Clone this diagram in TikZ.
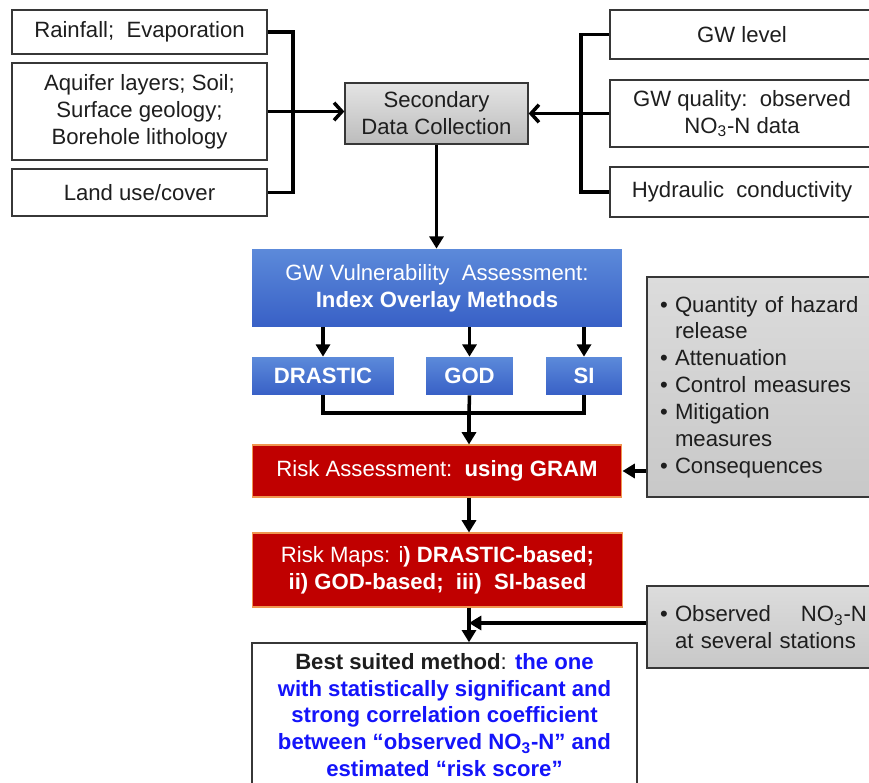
\documentclass[tikz,border=0pt]{standalone}
\usepackage{fontspec}
\setmainfont{Liberation Sans}
\usetikzlibrary{arrows.meta}
\definecolor{boxline}{RGB}{55, 55, 55}
\definecolor{inktext}{RGB}{30, 30, 30}
\definecolor{greytop}{RGB}{228, 228, 228}
\definecolor{greybot}{RGB}{188, 188, 188}
\definecolor{paneltop}{RGB}{220, 220, 220}
\definecolor{panelbot}{RGB}{200, 200, 200}
\definecolor{bluetop}{RGB}{92, 138, 218}
\definecolor{bluebot}{RGB}{56, 96, 198}
\definecolor{riskred}{RGB}{192, 0, 0}
\definecolor{riskedge}{RGB}{240, 150, 80}
\definecolor{bestblue}{RGB}{20, 20, 250}

\newcommand{\hzbul}{\makebox[0.3cm][l]{\textbullet}}
\newcommand{\hzind}{\hspace*{0.3cm}}

\tikzset{
  txt/.style      = {font=\fontsize{12.6}{15.3}\selectfont, align=center, inner sep=0pt},
  whitebox/.style = {txt, draw=boxline, line width=0.8pt, fill=white, text=inktext},
  databox/.style  = {txt, draw=boxline, line width=0.8pt, top color=greytop, bottom color=greybot, text=inktext},
  panelbox/.style = {txt, draw=boxline, line width=0.8pt, top color=paneltop, bottom color=panelbot, text=inktext,
                     align=left, text width=4.14cm, inner xsep=0.26cm},
  bluebox/.style  = {txt, top color=bluetop, bottom color=bluebot, text=white},
  redbox/.style   = {txt, draw=riskedge, line width=0.6pt, fill=riskred, text=white},
  link/.style     = {line width=2pt, black},
  arrow/.style    = {link, -{Triangle[length=7pt, width=8pt]}},
  barb/.style     = {link, -{Straight Barb[length=4.5pt, width=10pt]}},
}

\begin{document}
\begin{tikzpicture}[x=0.02cm, y=-0.02cm]
  \clip (0,0) rectangle (869,783);

  % data sources
  \node[whitebox, minimum width=5.10cm, minimum height=0.88cm] (rain)    at (139.5, 32.0)  {Rainfall;\ \ Evaporation};
  \node[whitebox, minimum width=5.10cm, minimum height=1.94cm] (aquifer) at (139.5,111.5)  {Aquifer layers; Soil;\\Surface geology;\\Borehole lithology};
  \node[whitebox, minimum width=5.10cm, minimum height=0.94cm] (land)    at (139.5,192.5)  {Land use/cover};
  \node[whitebox, minimum width=5.28cm, minimum height=0.98cm] (gwlevel) at (742.0, 34.5)  {GW level};
  \node[whitebox, minimum width=5.28cm, minimum height=1.34cm] (gwqual)  at (742.0,113.5)  {GW quality:\ \ observed\\NO\textsubscript{3}-N data};
  \node[whitebox, minimum width=5.28cm, minimum height=1.00cm] (hydro)   at (742.0,192.0)  {Hydraulic\ \ conductivity};
  \node[databox,  minimum width=3.66cm, minimum height=1.22cm] (sdc)     at (436.5,113.5)  {Secondary\\Data Collection};

  % vulnerability
  \node[bluebox,  minimum width=7.40cm, minimum height=1.56cm] (vuln)    at (437.0,288.0)  {GW Vulnerability\ \ Assessment:\\\textbf{Index Overlay Methods}};
  \node[bluebox,  minimum width=2.84cm, minimum height=0.76cm] (drastic) at (323.0,376.0)  {\textbf{DRASTIC}};
  \node[bluebox,  minimum width=1.74cm, minimum height=0.76cm] (god)     at (469.5,376.0)  {\textbf{GOD}};
  \node[bluebox,  minimum width=1.52cm, minimum height=0.76cm] (si)      at (584.0,376.0)  {\textbf{SI}};

  % risk
  \node[redbox,   minimum width=7.40cm, minimum height=1.04cm] (gram)    at (437.0,471.0)  {Risk Assessment:\ \ \textbf{using GRAM}};
  \node[redbox,   minimum width=7.42cm, minimum height=1.48cm] (maps)    at (437.5,570.0)  {Risk Maps: i\textbf{) DRASTIC-based;}\\\textbf{ii) GOD-based;\ \ iii)\ \ SI-based}};
  \node[panelbox, minimum height=4.40cm]                       (factors) at (763.5,387.0)  {\hzbul Quantity of hazard\\\hzind release\\\hzbul Attenuation\\\hzbul Control measures\\\hzbul Mitigation\\\hzind measures\\\hzbul Consequences};
  \node[panelbox, minimum height=1.64cm]                       (obs)     at (763.5,627.0)  {\hzbul Observed\hfill NO\textsubscript{3}-N\\\hzind at several stations};
  \node[whitebox, minimum width=7.70cm, minimum height=2.88cm] (best)    at (444.5,715.0)
       {\textbf{Best suited method}: \textcolor{bestblue}{\textbf{the one}}\\
        \textcolor{bestblue}{\textbf{with statistically significant and}}\\
        \textcolor{bestblue}{\textbf{strong correlation coefficient}}\\
        \textcolor{bestblue}{\textbf{between “observed NO\textsubscript{3}-N” and}}\\
        \textcolor{bestblue}{\textbf{estimated “risk score”}}};

  \coordinate (lbus)  at (293,111.5);
  \coordinate (rbus)  at (581,113.5);
  \coordinate (join)  at (469,413);
  \coordinate (merge) at (469,623);

  \draw[link]  (rain.east) -| (lbus) |- (land.east);
  \draw[barb]  (aquifer.east) -- (aquifer.east -| sdc.west);
  \draw[link]  (gwlevel.west) -| (rbus) |- (hydro.west);
  \draw[barb]  (gwqual.west) -- (gwqual.west -| sdc.east);
  \draw[arrow] (sdc.south) -- (sdc.south |- vuln.north);

  \foreach \m in {drastic, god, si}
    \draw[arrow] (\m.north |- vuln.south) -- (\m.north);
  \draw[link]  (drastic.south) |- (join) -| (si.south);
  \draw[link]  (god.south) -- (join);
  \draw[arrow] (join) -- (join |- gram.north);

  \draw[arrow] (factors.west |- gram.east) -- (gram.east);
  \draw[arrow] (gram.south -| join) -- (maps.north -| join);
  \draw[arrow] (maps.south -| merge) -- (best.north -| merge);
  \draw[arrow] (obs.west |- merge) -- (merge);
\end{tikzpicture}
\end{document}
